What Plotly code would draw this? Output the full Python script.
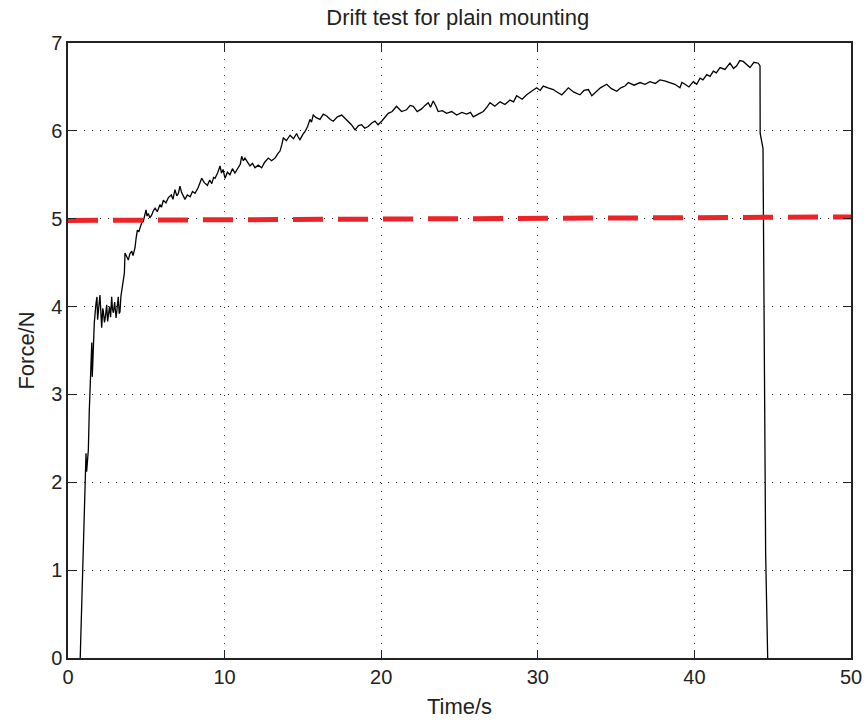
import plotly.graph_objects as go

# Force record from the drift test (time in s, force in N)
time_s = [
    0.78, 0.81, 0.89, 0.98, 1.09, 1.15, 1.19, 1.30, 1.36, 1.45, 1.52, 1.55,
    1.68, 1.79, 1.85, 1.89, 1.97, 2.04, 2.15, 2.22, 2.26, 2.33, 2.40, 2.47,
    2.53, 2.60, 2.65, 2.72, 2.79, 2.84, 2.90, 2.98, 3.07, 3.14, 3.21, 3.27,
    3.32, 3.38, 3.43, 3.53, 3.60, 3.64, 3.72, 3.85, 3.95, 4.07, 4.15, 4.28,
    4.35, 4.43, 4.52, 4.60, 4.70, 4.81, 4.90, 4.98, 5.05, 5.13, 5.22, 5.34,
    5.45, 5.56, 5.70, 5.87, 5.97, 6.09, 6.25, 6.41, 6.60, 6.70, 6.83, 6.95,
    7.05, 7.15, 7.25, 7.35, 7.47, 7.62, 7.80, 7.95, 8.11, 8.30, 8.54, 8.70,
    8.90, 9.05, 9.18, 9.30, 9.39, 9.55, 9.71, 9.80, 9.90, 10.03, 10.18, 10.34,
    10.50, 10.66, 10.85, 11.00, 11.09, 11.20, 11.30, 11.45, 11.62, 11.78,
    11.94, 12.15, 12.37, 12.55, 12.79, 13.00, 13.22, 13.40, 13.54, 13.65,
    13.75, 13.95, 14.18, 14.40, 14.60, 14.70, 14.81, 15.00, 15.13, 15.30,
    15.45, 15.55, 15.66, 15.85, 16.09, 16.30, 16.52, 16.75, 16.94, 17.20,
    17.48, 17.70, 17.90, 18.10, 18.33, 18.55, 18.75, 18.95, 19.17, 19.40,
    19.60, 19.80, 20.03, 20.25, 20.45, 20.70, 20.98, 21.30, 21.62, 21.85,
    22.05, 22.30, 22.58, 22.80, 23.00, 23.15, 23.32, 23.50, 23.64, 23.90,
    24.18, 24.50, 24.82, 25.15, 25.46, 25.70, 25.88, 26.20, 26.52, 26.75,
    26.95, 27.25, 27.59, 27.90, 28.22, 28.45, 28.65, 29.00, 29.29, 29.60,
    29.93, 30.15, 30.35, 30.65, 30.99, 31.25, 31.53, 31.75, 31.95, 32.30,
    32.69, 32.95, 33.23, 33.45, 33.65, 34.00, 34.40, 34.70, 35.04, 35.30,
    35.57, 35.78, 36.15, 36.53, 36.85, 37.16, 37.50, 37.80, 38.10, 38.44,
    38.75, 39.08, 39.20, 39.40, 39.65, 39.93, 40.15, 40.36, 40.55, 40.79,
    41.00, 41.21, 41.40, 41.64, 41.95, 42.27, 42.50, 42.70, 42.90, 43.12,
    43.30, 43.55, 43.80, 44.08, 44.19, 44.20, 44.38, 44.40, 44.45, 44.55,
    44.68,
]
force_n = [
    0.00, 0.19, 0.60, 1.29, 2.14, 2.33, 2.12, 2.37, 2.82, 3.24, 3.59, 3.20,
    3.82, 4.04, 4.11, 3.85, 4.06, 4.13, 3.76, 3.98, 3.94, 3.82, 3.90, 4.02,
    3.83, 3.95, 4.00, 3.88, 4.11, 3.97, 3.93, 4.05, 3.87, 3.99, 4.11, 3.92,
    3.94, 4.12, 4.17, 4.30, 4.38, 4.61, 4.58, 4.53, 4.60, 4.63, 4.58, 4.67,
    4.78, 4.87, 4.85, 4.91, 4.95, 4.97, 5.04, 5.10, 5.03, 5.06, 5.01, 5.04,
    5.09, 5.12, 5.08, 5.16, 5.13, 5.21, 5.18, 5.24, 5.27, 5.22, 5.33, 5.26,
    5.29, 5.37, 5.30, 5.27, 5.22, 5.27, 5.25, 5.31, 5.29, 5.35, 5.46, 5.41,
    5.38, 5.44, 5.40, 5.47, 5.46, 5.52, 5.60, 5.52, 5.56, 5.46, 5.53, 5.50,
    5.57, 5.52, 5.58, 5.62, 5.71, 5.66, 5.69, 5.64, 5.60, 5.63,
    5.58, 5.61, 5.58, 5.64, 5.69, 5.66, 5.69, 5.74, 5.77, 5.84,
    5.92, 5.89, 5.95, 5.91, 5.97, 5.93, 5.90, 5.96, 5.99, 6.05,
    6.13, 6.10, 6.18, 6.15, 6.13, 6.19, 6.17, 6.13, 6.11, 6.16,
    6.18, 6.14, 6.11, 6.07, 6.01, 6.06, 6.07, 6.03, 6.05, 6.09,
    6.11, 6.07, 6.11, 6.16, 6.20, 6.22, 6.28, 6.22, 6.24, 6.29,
    6.28, 6.22, 6.25, 6.29, 6.32, 6.27, 6.34, 6.28, 6.22, 6.23,
    6.20, 6.22, 6.18, 6.21, 6.19, 6.21, 6.16, 6.19, 6.22, 6.27,
    6.32, 6.28, 6.33, 6.30, 6.35, 6.33, 6.40, 6.36, 6.41, 6.45,
    6.49, 6.46, 6.51, 6.49, 6.47, 6.44, 6.41, 6.45, 6.49, 6.44,
    6.41, 6.46, 6.47, 6.40, 6.43, 6.49, 6.53, 6.48, 6.45, 6.49,
    6.51, 6.55, 6.52, 6.55, 6.53, 6.56, 6.54, 6.58, 6.57, 6.55,
    6.53, 6.49, 6.55, 6.53, 6.50, 6.56, 6.53, 6.60, 6.58, 6.64,
    6.62, 6.68, 6.66, 6.72, 6.70, 6.77, 6.71, 6.74, 6.80, 6.79,
    6.76, 6.72, 6.78, 6.77, 6.74, 5.97, 5.80, 5.18, 4.25, 1.18,
    0.00,
]

# Threshold reference line
threshold_t = [0, 50]
threshold_f = [4.98, 5.02]

x_ticks = [0, 10, 20, 30, 40, 50]
y_ticks = [0, 1, 2, 3, 4, 5, 6, 7]

FONT = "Liberation Sans, Arial, Helvetica, sans-serif"

fig = go.Figure()
fig.add_trace(go.Scatter(
    x=time_s, y=force_n, mode="lines",
    line=dict(color="black", width=1.3),
    showlegend=False,
))
# small dots sitting in the gaps of the dash-dot line
fig.add_trace(go.Scatter(
    x=threshold_t, y=threshold_f, mode="lines",
    line=dict(color="#555555", width=2, dash="0px,38px,0px,7px"),
    showlegend=False,
))
fig.add_trace(go.Scatter(
    x=threshold_t, y=threshold_f, mode="lines",
    line=dict(color="#ec2327", width=5, dash="30px,15px"),
    showlegend=False,
))

axis_common = dict(
    showline=True, linecolor="#222222", linewidth=1.5, mirror="ticks",
    ticks="inside", ticklen=8, tickwidth=1, tickcolor="#222222",
    showgrid=True, gridcolor="#222222", gridwidth=1, griddash="1px,7px",
    zeroline=False, automargin=False,
    tickfont=dict(family=FONT, size=20, color="#222222"),
)

fig.update_layout(
    width=867, height=722,
    margin=dict(l=68, r=16, t=43, b=64),
    paper_bgcolor="white", plot_bgcolor="white",
    title=dict(text="Drift test for plain mounting", x=0.528, xanchor="center",
               y=0.976, yanchor="middle",
               font=dict(family=FONT, size=22, color="#222222")),
    xaxis=dict(range=[0, 50], tickvals=x_ticks,
               title=dict(text="Time/s", standoff=12,
                          font=dict(family=FONT, size=22, color="#222222")),
               **axis_common),
    yaxis=dict(range=[0, 7], tickvals=y_ticks,
               title=dict(text="Force/N", standoff=10,
                          font=dict(family=FONT, size=22, color="#222222")),
               **axis_common),
)

fig.write_html("out.html")
